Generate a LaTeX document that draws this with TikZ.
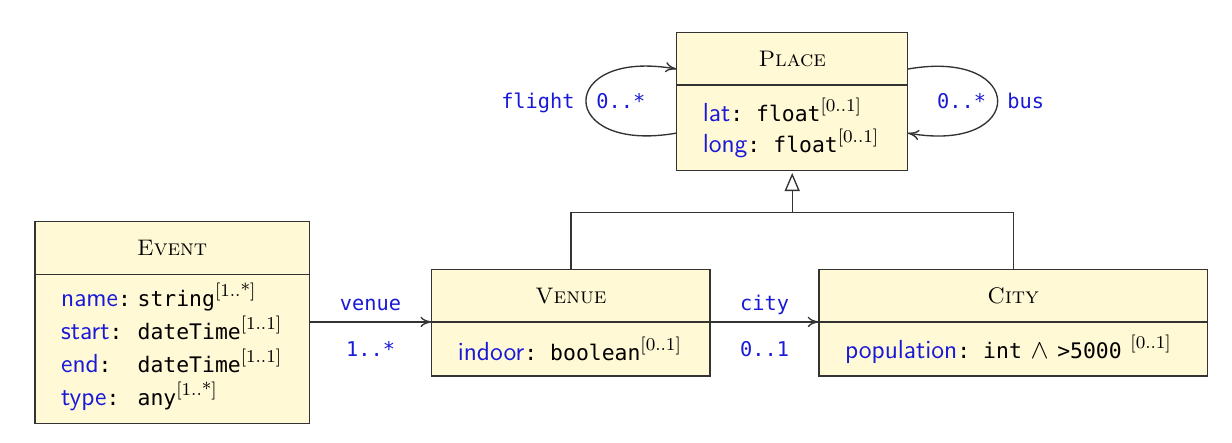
\documentclass[tikz,border=0pt]{standalone}
\usepackage{fontspec}
\setmonofont{DejaVu Sans Mono}[Scale=0.82]
\usepackage{tikz}
\usetikzlibrary{arrows, arrows.meta, shapes, positioning}

\definecolor{umlfill}{RGB}{255,249,214}
\definecolor{umlblue}{RGB}{25,25,215}
\definecolor{umlline}{RGB}{51,51,51}

\newcommand{\attr}[1]{\textcolor{umlblue}{\sffamily #1}}
\newcommand{\ty}[1]{\texttt{#1}}
\newcommand{\card}[1]{\raisebox{4.5pt}{\fontsize{8}{8}\selectfont\rmfamily[#1]}}

\tikzset{
  class title/.style={rectangle, draw=umlline, fill=umlfill, line width=0.6pt,
    minimum height=23.4pt, inner sep=0pt, outer sep=0pt,
    font=\fontsize{10}{12}\selectfont\scshape},
  class body/.style={rectangle, draw=umlline, fill=umlfill, line width=0.6pt,
    inner xsep=11.6pt, inner ysep=0pt, outer sep=0pt, align=left,
    font=\fontsize{11.6}{14.1}\selectfont},
  role/.style={text=umlblue, font=\fontsize{11}{12}\selectfont\ttfamily,
    inner sep=0pt, text height=0.7em, text depth=0pt},
  assoc/.style={umlline, line width=0.6pt, -{To[length=5pt,width=4.6pt]}},
  generalization/.style={umlline, line width=0.6pt,
    -{Triangle[open,length=8pt,width=6.7pt]}, shorten >=1pt}
}

\begin{document}
\begin{tikzpicture}[x=0.4444pt, y=-0.4444pt, node distance=0pt, auto]
  \useasboundingbox (0,0) rectangle (1232,442);

  % classes
  \node[class title, minimum width=102.7pt] (placetitle) at (792.2,58.7) {Place};
  \node[class body, text width=79.5pt, minimum height=38.1pt] (placebody) [below=of placetitle]
    {\attr{lat}\ty{: float}\card{0..1}\\
     \attr{long}\ty{: float}\card{0..1}};

  \node[class title, minimum width=121.9pt] (eventtitle) at (172.2,247.9) {Event};
  \node[class body, text width=98.7pt, minimum height=66.4pt] (eventbody) [below=of eventtitle]
    {\begin{tabular}{@{}l@{\hspace{3pt}}l@{}}
       \attr{name}\ty{:}  & \ty{string}\card{1..*}\\
       \attr{start}\ty{:} & \ty{dateTime}\card{1..1}\\
       \attr{end}\ty{:}   & \ty{dateTime}\card{1..1}\\
       \attr{type}\ty{:}  & \ty{any}\card{1..*}
     \end{tabular}};

  \node[class title, minimum width=123.7pt] (venuetitle) at (570.9,295.6) {Venue};
  \node[class body, text width=100.5pt, minimum height=24pt] (venuebody) [below=of venuetitle]
    {\attr{indoor}\ty{: boolean}\card{0..1}};

  \node[class title, minimum width=172.6pt] (citytitle) at (1013.2,295.6) {City};
  \node[class body, text width=149.4pt, minimum height=24pt] (citybody) [below=of citytitle]
    {\mbox{\attr{population}\ty{: int }$\wedge$\ty{ >5000 }\card{0..1}}};

  % associations
  \draw[assoc] ([yshift=-2.3pt]placebody.west) to[out=190, in=170, distance=54.5pt]
    node[role, pos=0.5, left=4.8pt] {flight} node[role, pos=0.5, right=4.3pt] {0..*}
    ([yshift=-4.6pt]placetitle.west);
  \draw[assoc] ([yshift=-4.6pt]placetitle.east) to[out=10, in=-10, distance=54pt]
    node[role, pos=0.5, left=4.8pt] {0..*} node[role, pos=0.5, right=4.1pt] {bus}
    ([yshift=-2.3pt]placebody.east);

  \draw[assoc] (eventbody.east |- venuebody.north west) --
    node[role, above=4.7pt] {venue} node[role, below=8pt] {1..*} (venuebody.north west);
  \draw[assoc] (venuebody.north east) --
    node[role, above=4.7pt] {city} node[role, below=8pt] {0..1} (citybody.north west);

  % inheritance
  \coordinate[below=18.5pt of placebody] (fork);
  \draw[umlline, line width=0.6pt] (venuetitle.north) |- (fork) -| (citytitle.north);
  \draw[generalization] (fork) -- (placebody.south);
\end{tikzpicture}
\end{document}
